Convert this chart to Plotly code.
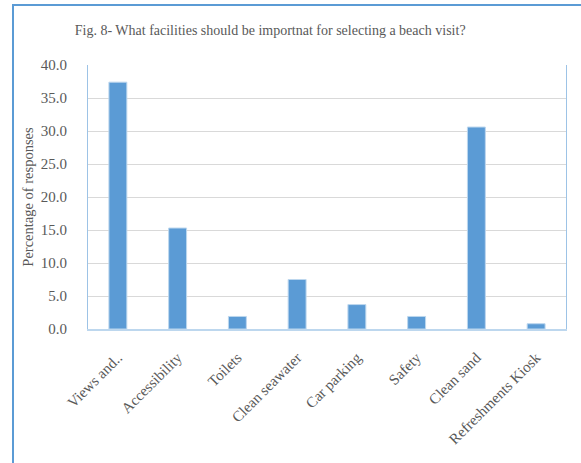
import plotly.graph_objects as go

# Survey responses: which facilities matter when choosing a beach to visit
categories = ["Views and..", "Accessibility", "Toilets", "Clean seawater",
              "Car parking", "Safety", "Clean sand", "Refreshments Kiosk"]
percentages = [37.4, 15.3, 1.9, 7.5, 3.7, 1.9, 30.6, 0.8]
y_ticks = [0, 5, 10, 15, 20, 25, 30, 35, 40]

title_text = "Fig. 8- What facilities should be importnat for selecting a beach visit?"
y_title = "Percentage of responses"

serif = "Liberation Serif, Times New Roman, serif"
text_grey = "#595959"
bar_blue = "#5B9BD5"

fig = go.Figure(
    go.Bar(
        x=categories,
        y=percentages,
        marker=dict(color=bar_blue, line=dict(color="#BDD7EE", width=1)),
        width=0.3,
    )
)

fig.update_layout(
    width=581,
    height=463,
    margin=dict(l=88, r=15, t=65, b=134),
    paper_bgcolor="white",
    plot_bgcolor="white",
    showlegend=False,
    font=dict(family=serif, color=text_grey, size=15),
    title=dict(
        text=title_text,
        x=0.465,
        xanchor="center",
        y=0.935,
        yanchor="middle",
        font=dict(family=serif, size=14, color=text_grey),
    ),
    shapes=[
        # frame around the whole chart (left and top edges are visible)
        dict(type="rect", xref="paper", yref="paper",
             x0=-75 / 478, x1=1.2, y0=-0.6, y1=1 + 60 / 264,
             line=dict(color=bar_blue, width=2), layer="below"),
    ],
)

fig.update_xaxes(
    type="category",
    showline=True,
    linecolor="#BDD7EE",
    linewidth=2,
    mirror=False,
    ticks="",
    tickangle=-45,
    tickfont=dict(family=serif, size=15, color=text_grey),
    ticklabelstandoff=12,
)

fig.update_yaxes(
    range=[0, 40],
    tickvals=y_ticks,
    ticktext=[f"{v:.1f}" for v in y_ticks],
    showgrid=True,
    gridcolor="#D9D9D9",
    gridwidth=1,
    zeroline=False,
    showline=True,
    linecolor="#9DC3E6",
    linewidth=1,
    mirror=True,
    ticks="",
    tickfont=dict(family=serif, size=15, color=text_grey),
    ticklabelstandoff=17,
    title=dict(text=y_title, font=dict(family=serif, size=14.5, color=text_grey), standoff=3),
)

fig.write_html("out.html")
